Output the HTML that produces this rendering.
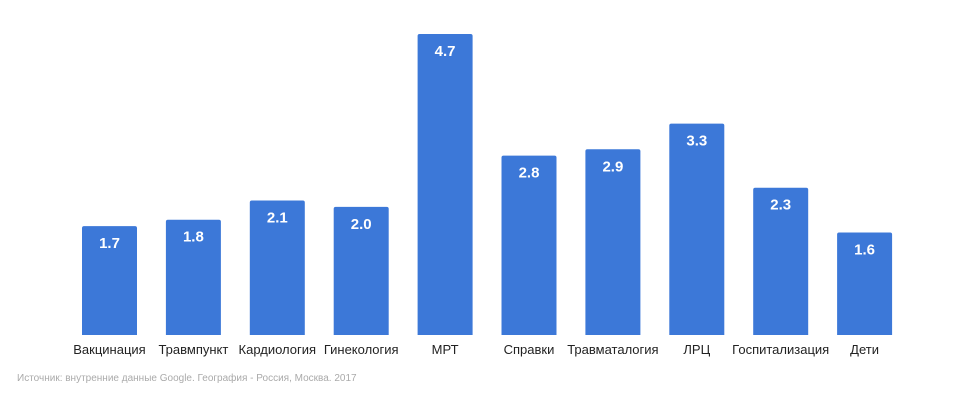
<!DOCTYPE html>
<html><head><meta charset="utf-8"><style>
body{margin:0;background:#fff;width:956px;height:400px;overflow:hidden;font-family:"Liberation Sans",sans-serif}
</style></head><body>
<svg id="chart" width="956" height="400" xmlns="http://www.w3.org/2000/svg">
<text x="17" y="381" font-size="10" fill="#aaaaaa" font-family="Liberation Sans, sans-serif">Источник: внутренние данные Google. География - Россия, Москва. 2017</text>
</svg>
<script>
const categories=["Вакцинация","Травмпункт","Кардиология","Гинекология","МРТ","Справки","Травматалогия","ЛРЦ","Госпитализация","Дети"];
const values=[1.7,1.8,2.1,2.0,4.7,2.8,2.9,3.3,2.3,1.6];
const valueLabels=["1.7","1.8","2.1","2.0","4.7","2.8","2.9","3.3","2.3","1.6"];
const svg=document.getElementById('chart');
const NS="http://www.w3.org/2000/svg";
const base=335, scale=301/4.7, x0=109.5, step=83.9, bw=55;
const xPos=i=>x0+i*step;
const yPos=v=>base-v*scale;
values.forEach((v,i)=>{
  const g=document.createElementNS(NS,'g');
  
  
  const r=document.createElementNS(NS,'path');
  const x=xPos(i)-bw/2, y=yPos(v), rr=2;
  r.setAttribute('d',`M${x},${base}V${y+rr}Q${x},${y} ${x+rr},${y}H${x+bw-rr}Q${x+bw},${y} ${x+bw},${y+rr}V${base}Z`);
  r.setAttribute('fill','#3c78d8');
  
  
  g.appendChild(r);
  const t=document.createElementNS(NS,'text');
  t.setAttribute('x',xPos(i));t.setAttribute('y',y+22);
  t.setAttribute('text-anchor','middle');t.setAttribute('fill','#fff');
  t.setAttribute('font-size','15');t.setAttribute('font-weight','bold');
  t.textContent=valueLabels[i];
  
  
  g.appendChild(t);
  const c=document.createElementNS(NS,'text');
  c.setAttribute('x',xPos(i));c.setAttribute('y',354);
  c.setAttribute('text-anchor','middle');c.setAttribute('fill','#222');
  c.setAttribute('font-size','13');
  c.textContent=categories[i];
  
  
  g.appendChild(c);
  svg.appendChild(g);
});
</script>
</body></html>
